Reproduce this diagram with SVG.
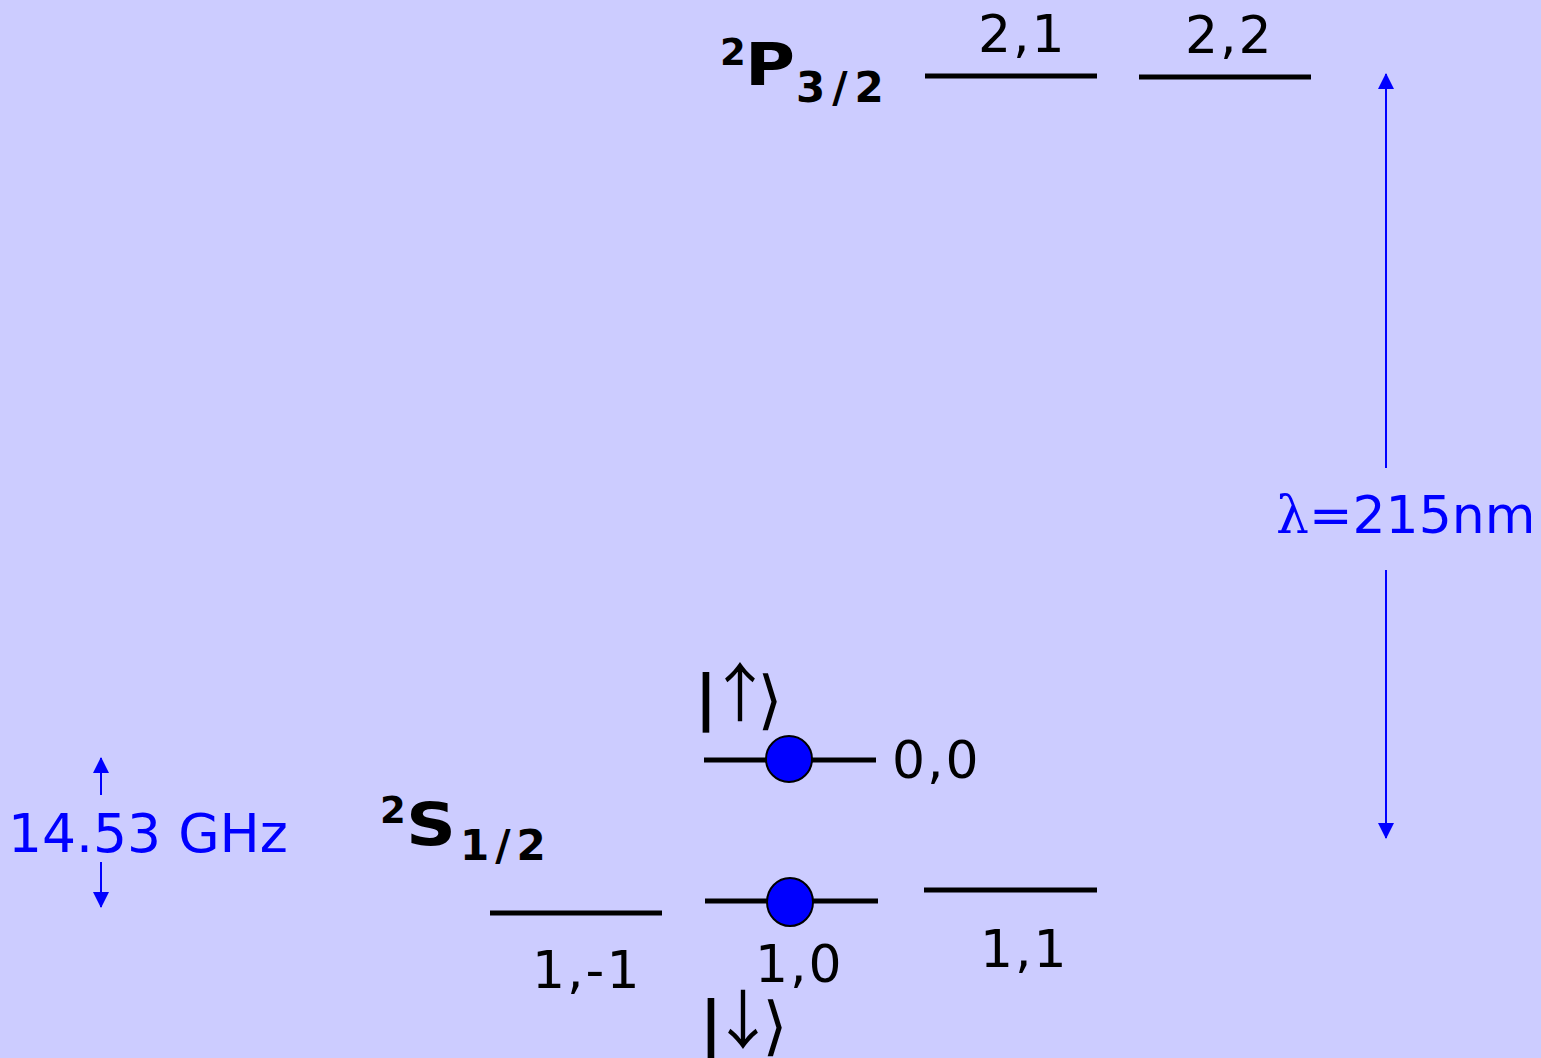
<svg xmlns="http://www.w3.org/2000/svg" width="1541" height="1058" viewBox="0 0 1541 1058">
<style>
.t{font-family:"DejaVu Sans","Verdana",sans-serif;font-size:52px;fill:#000;letter-spacing:2px}
.b{font-family:"DejaVu Sans","Verdana",sans-serif;font-weight:bold;fill:#000}
.k{font-family:"DejaVu Sans",sans-serif;fill:#000;text-anchor:middle;font-size:64px}
.bar{font-weight:bold;font-size:60px}
.ka{font-family:"Noto Sans CJK SC","Liberation Sans",sans-serif}
.blue{fill:#0000FF}
.lvl{stroke:#000;stroke-width:5;fill:none}
.dot{fill:#0000FF;stroke:#000;stroke-width:2}
.ar{stroke:#0000FF;stroke-width:2;fill:none}
</style>
<defs>
<marker id="ah" viewBox="0 0 16 16" refX="15" refY="8" markerWidth="16" markerHeight="16" markerUnits="userSpaceOnUse" orient="auto">
<path d="M0,0 L16,8 L0,16 Z" fill="#0000FF"/>
</marker>
</defs>
<rect width="1541" height="1058" fill="#CCCCFF"/>
<g id="term-P">
<text class="b" x="720" y="65" font-size="37">2</text>
<text class="b" x="745" y="85" font-size="58" textLength="50" lengthAdjust="spacingAndGlyphs">P</text>
<text class="b" x="796" y="102" font-size="42">3<tspan dx="7">/</tspan><tspan dx="7">2</tspan></text>
</g>
<g id="level-2-1">
<line class="lvl" x1="925" y1="76" x2="1097" y2="76"/>
<text class="t" x="978" y="52">2,1</text>
</g>
<g id="level-2-2">
<line class="lvl" x1="1139" y1="77" x2="1311" y2="77"/>
<text class="t" x="1185" y="53">2,2</text>
</g>
<g id="term-S">
<text class="b" x="380" y="823" font-size="37">2</text>
<text class="b" x="406" y="845" font-size="58" textLength="50" lengthAdjust="spacingAndGlyphs">S</text>
<text class="b" x="460" y="860" font-size="42">1<tspan dx="6">/</tspan><tspan dx="6">2</tspan></text>
</g>
<g id="level-0-0">
<line class="lvl" x1="704" y1="760" x2="876" y2="760"/>
<circle class="dot" cx="789" cy="759" r="23"/>
<text class="t" x="892" y="778">0,0</text>
</g>
<g id="ket-up">
<text class="k"><tspan class="bar" x="706" y="718">|</tspan><tspan class="ka" x="740" y="716">↑</tspan><tspan x="770" y="722">⟩</tspan></text>
</g>
<g id="level-1-0">
<line class="lvl" x1="705" y1="901" x2="878" y2="901"/>
<ellipse class="dot" cx="790" cy="902" rx="23" ry="24"/>
<text class="t" x="755" y="982">1,0</text>
</g>
<g id="ket-down">
<text class="k"><tspan class="bar" x="711" y="1044">|</tspan><tspan class="ka" x="743" y="1043">↓</tspan><tspan x="775" y="1048">⟩</tspan></text>
</g>
<g id="level-1-m1">
<line class="lvl" x1="490" y1="913" x2="662" y2="913"/>
<text class="t" x="532" y="988">1,-1</text>
</g>
<g id="level-1-1">
<line class="lvl" x1="924" y1="890" x2="1097" y2="890"/>
<text class="t" x="980" y="967">1,1</text>
</g>
<g id="label-wavelength">
<text x="1276" y="533" font-size="52" class="blue" font-family="DejaVu Sans,sans-serif"><tspan font-family="DejaVu Serif,Liberation Serif,serif">λ</tspan>=215nm</text>
</g>
<g id="label-freq">
<text x="8" y="852" font-size="53.5" class="blue" font-family="DejaVu Sans,sans-serif">14.53 GHz</text>
</g>
<g id="connectors">
<line class="ar" x1="1386" y1="468" x2="1386" y2="74" marker-end="url(#ah)"/>
<line class="ar" x1="1386" y1="570" x2="1386" y2="838" marker-end="url(#ah)"/>
<line class="ar" x1="101" y1="795" x2="101" y2="758" marker-end="url(#ah)"/>
<line class="ar" x1="101" y1="862" x2="101" y2="907" marker-end="url(#ah)"/>
</g>
</svg>
